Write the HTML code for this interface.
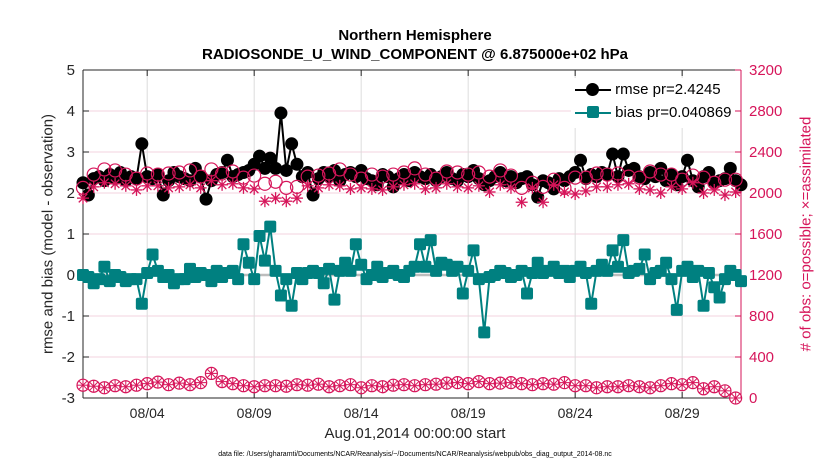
<!DOCTYPE html>
<html><head><meta charset="utf-8"><style>
body{margin:0;background:#fff;}
svg{font-family:"Liberation Sans",sans-serif;}
</style></head><body>
<svg id="chart" width="830" height="470"></svg>
<script>
const dateLabels=["08/04","08/09","08/14","08/19","08/24","08/29"];
const dateDays=[3,8,13,18,23,28];
const leftTicks=[-3,-2,-1,0,1,2,3,4,5];
const rightTicks=[0,400,800,1200,1600,2000,2400,2800,3200];
const rmse=[2.25,1.95,2.35,2.4,2.3,2.45,2.35,2.5,2.3,2.4,2.35,3.2,2.4,2.35,2.45,1.95,2.3,2.5,2.4,2.35,2.3,2.6,2.4,1.85,2.3,2.45,2.5,2.8,2.4,2.45,2.5,2.55,2.7,2.9,2.6,2.85,2.6,3.95,2.55,3.2,2.7,2.4,2.5,1.95,2.35,2.5,2.4,2.55,2.3,2.45,2.5,2.4,2.55,2.35,2.3,2.2,2.45,2.4,2.15,2.35,2.45,2.3,2.5,2.4,2.35,2.45,2.3,2.4,2.5,2.35,2.3,2.45,2.4,2.55,2.35,2.2,2.3,2.4,2.5,2.3,2.4,2.25,2.35,2.4,2.2,1.9,2.3,2.25,2.1,2.35,2.3,2.4,2.5,2.8,2.35,2.45,2.4,2.5,2.45,2.95,2.4,2.95,2.55,2.6,2.4,2.35,2.5,2.4,2.6,2.3,2.45,2.2,2.4,2.8,2.3,2.15,2.4,2.5,2.25,2.3,2.35,2.6,2.3,2.2];
const bias=[0,-0.05,-0.2,-0.1,0.2,-0.15,0,-0.05,-0.15,-0.1,-0.1,-0.7,0.05,0.5,0.1,-0.05,0,-0.2,-0.1,-0.1,0.15,-0.05,0.05,0,-0.15,0.1,-0.05,0.05,0.1,-0.1,0.75,0.3,-0.1,0.95,0.35,1.18,0.1,-0.5,-0.1,-0.75,0.05,-0.1,0.05,0.1,0.05,-0.2,0.15,-0.6,0.1,0.3,0.1,0.75,0.25,-0.1,0,0.2,-0.05,0.05,0.1,0,-0.05,0.1,0.2,0.75,0.2,0.85,0.1,0.3,0.25,0.1,0.2,-0.45,0.1,0.6,-0.1,-1.4,-0.05,0,0.1,0.05,-0.05,0,0.1,-0.45,0.05,0.3,0.05,0.1,0.2,0.05,0.1,-0.05,0.1,0.2,0.05,-0.7,0.1,0.25,0.1,0.6,0.2,0.85,0.05,0.1,0.15,0.5,-0.1,0.05,0.1,0.3,-0.1,-0.85,0.1,0.2,-0.05,0.1,-0.75,0.05,-0.3,-0.55,-0.1,0.1,0,-0.15];
const obsPossible=[2050,2180,2230,2220,2180,2140,2190,2180,2190,2200,2220,2160,2230,2190,2210,2150,2170,2090,2110,2050,2060,2160,2170,2190,2230,2180,2140,2180,2160,2180,2200,2240,2180,2140,2210,2200,2180,2200,2160,2220,2170,2050,2100,2060,2130,2050,2150,2150,2190,2180,2190,2160,2150,2210,2180,2180,2130,2170,2150,2100,2130,2130];
const obsAssim=[1950,2060,2100,2090,2070,2030,2070,2070,2050,2060,2080,2050,2120,2080,2090,2050,2040,1920,1950,1920,1950,2070,2050,2080,2070,2040,2050,2040,2030,2060,2080,2090,2040,2050,2090,2060,2050,2070,2010,2080,2050,1910,2050,1910,2080,2010,1990,2020,2060,2060,2080,2090,2040,2030,2000,2060,2040,2100,2000,2030,1980,2010];
const obsThird=[125,115,100,120,110,125,140,155,130,145,130,150,240,160,140,120,110,120,120,115,130,125,135,110,120,130,100,120,110,125,130,120,130,135,145,150,140,160,140,145,150,140,130,140,135,150,120,120,100,110,110,120,110,100,120,140,130,150,90,110,70,0];
const NS="http://www.w3.org/2000/svg";
const svg=document.getElementById("chart");
const X0=83,X1=741,Y0=70,Y1=398,DAYS=30.75;
function xDay(d){return X0+d/DAYS*(X1-X0);}
function yL(v){return Y1-(v+3)/8*(Y1-Y0);}
function yR(n){return Y1-n/3200*(Y1-Y0);}
function el(tag,attrs,parent){const e=document.createElementNS(NS,tag);for(const k in attrs)e.setAttribute(k,attrs[k]);(parent||svg).appendChild(e);return e;}
leftTicks.forEach(t=>{const l=el("line",{x1:X0,x2:X1,y1:yL(t),y2:yL(t),stroke:"#f3d3df","stroke-width":1});

});
dateDays.forEach(d=>{const l=el("line",{x1:xDay(d),x2:xDay(d),y1:Y0,y2:Y1,stroke:"#dcdcdc","stroke-width":1});

});
const z=el("line",{x1:X0,x2:X1,y1:yL(0),y2:yL(0),stroke:"#bdbdbd","stroke-width":2.5});


const ax=el("g",{});


el("line",{x1:X0,x2:X0,y1:Y0,y2:Y1,stroke:"#262626"},ax);
el("line",{x1:X0,x2:X1,y1:Y1,y2:Y1,stroke:"#262626"},ax);
el("line",{x1:X0,x2:X1,y1:Y0,y2:Y0,stroke:"#262626"},ax);
el("line",{x1:X1,x2:X1,y1:Y0,y2:Y1,stroke:"#d6155a"},ax);
leftTicks.forEach(t=>{el("line",{x1:X0,x2:X0+6,y1:yL(t),y2:yL(t),stroke:"#262626"},ax);
const tx=el("text",{x:X0-8,y:yL(t)+5,"text-anchor":"end","font-size":15,fill:"#262626"},ax);tx.textContent=t;

});
rightTicks.forEach(t=>{el("line",{x1:X1-6,x2:X1,y1:yR(t),y2:yR(t),stroke:"#d6155a"},ax);
const tx=el("text",{x:X1+8,y:yR(t)+5,"font-size":15,fill:"#d6155a"},ax);tx.textContent=t;

});
dateDays.forEach((d,i)=>{el("line",{x1:xDay(d),x2:xDay(d),y1:Y1,y2:Y1-6,stroke:"#262626"},ax);el("line",{x1:xDay(d),x2:xDay(d),y1:Y0,y2:Y0+6,stroke:"#262626"},ax);
const tx=el("text",{x:xDay(d),y:Y1+20,"text-anchor":"middle","font-size":14,fill:"#262626"},ax);tx.textContent=dateLabels[i];

});
const g3=el("g",{});


obsThird.forEach((v,i)=>{const x=xDay(i*0.5),y=yR(v);
el("circle",{cx:x,cy:y,r:6,fill:"none",stroke:"#d6155a","stroke-width":1.2},g3);
for(let a=0;a<4;a++){const an=a*Math.PI/4;el("line",{x1:x-6*Math.cos(an),y1:y-6*Math.sin(an),x2:x+6*Math.cos(an),y2:y+6*Math.sin(an),stroke:"#d6155a","stroke-width":1},g3);}});
const gR=el("g",{});


el("polyline",{points:rmse.map((v,i)=>xDay(i*0.25)+","+yL(v)).join(" "),fill:"none",stroke:"#000","stroke-width":2},gR);
rmse.forEach((v,i)=>el("circle",{cx:xDay(i*0.25),cy:yL(v),r:6.5,fill:"#000"},gR));
const gP=el("g",{});


obsPossible.forEach((v,i)=>el("circle",{cx:xDay(i*0.5),cy:yR(v),r:6.5,fill:"none",stroke:"#d6155a","stroke-width":1.2},gP));
const gA=el("g",{});


obsAssim.forEach((v,i)=>{const x=xDay(i*0.5),y=yR(v);for(let a=0;a<4;a++){const an=a*Math.PI/4;el("line",{x1:x-6*Math.cos(an),y1:y-6*Math.sin(an),x2:x+6*Math.cos(an),y2:y+6*Math.sin(an),stroke:"#d6155a","stroke-width":1.3},gA);}});
const gB=el("g",{});


el("polyline",{points:bias.map((v,i)=>xDay(i*0.25)+","+yL(v)).join(" "),fill:"none",stroke:"#008080","stroke-width":2},gB);
bias.forEach((v,i)=>el("rect",{x:xDay(i*0.25)-6,y:yL(v)-6,width:12,height:12,rx:2,fill:"#008080"},gB));
</script>
<div style="position:absolute;left:0;top:0;width:830px;height:470px;pointer-events:none;font-family:'Liberation Sans',sans-serif;">
<div style="position:absolute;left:0;width:830px;top:26px;text-align:center;font-weight:bold;font-size:15px;color:#000;line-height:19px;">Northern Hemisphere<br>RADIOSONDE_U_WIND_COMPONENT @ 6.875000e+02 hPa</div>
<div style="position:absolute;left:571px;top:78px;width:164px;height:50px;background:#fff;font-size:15px;color:#000;">
 <div style="position:absolute;left:4px;top:3px;"><span style="display:inline-block;width:36px;height:2px;background:#000;vertical-align:middle;position:relative;"><span style="position:absolute;left:11px;top:-6px;width:13px;height:13px;border-radius:50%;background:#000;"></span></span> rmse pr=2.4245</div>
 <div style="position:absolute;left:4px;top:26px;"><span style="display:inline-block;width:36px;height:2px;background:#008080;vertical-align:middle;position:relative;"><span style="position:absolute;left:12px;top:-6px;width:12px;height:12px;border-radius:2px;background:#008080;"></span></span> bias pr=0.040869</div>
</div>
<div style="position:absolute;left:48px;top:234px;transform:translate(-50%,-50%) rotate(-90deg);white-space:nowrap;font-size:15px;color:#262626;">rmse and bias (model - observation)</div>
<div style="position:absolute;left:806px;top:234px;transform:translate(-50%,-50%) rotate(-90deg);white-space:nowrap;font-size:15px;color:#d6155a;"># of obs: o=possible; ×=assimilated</div>
<div style="position:absolute;left:0;width:830px;top:425px;text-align:center;font-size:15px;color:#262626;">Aug.01,2014 00:00:00 start</div>
<div style="position:absolute;left:0;width:830px;top:451px;text-align:center;font-size:7px;color:#000;">data file: /Users/gharamti/Documents/NCAR/Reanalysis/~/Documents/NCAR/Reanalysis/webpub/obs_diag_output_2014-08.nc</div>
</div>
</body></html>
